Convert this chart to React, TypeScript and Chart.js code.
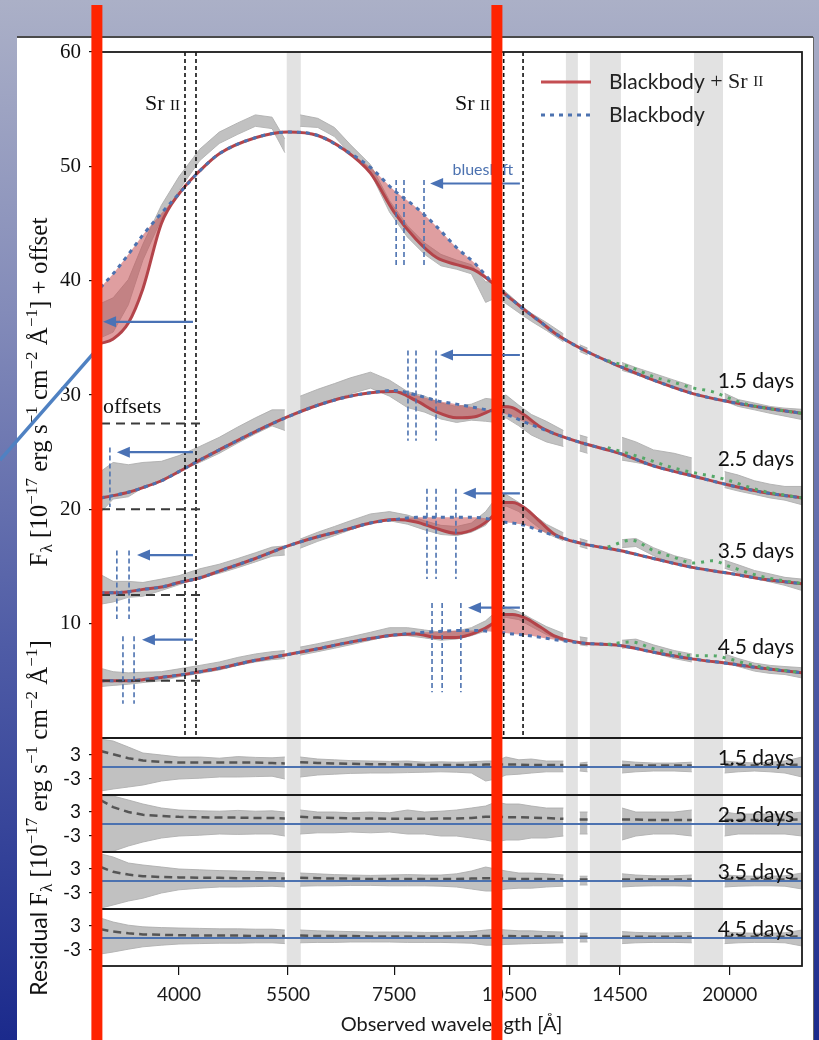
import React, { useEffect, useRef } from 'react';
import { Chart, registerables } from 'chart.js';
Chart.register(...registerables);

// ---------------- axes ----------------
const xTicks = [4000, 5500, 7500, 10500, 14500, 20000];
const mainTicks = [10, 20, 30, 40, 50, 60];
const residTicks = [-3, 3];
const X_MIN = 3185;
const X_MAX = 24700;
const dayNames = ['1.5 days', '2.5 days', '3.5 days', '4.5 days'];

// ---------------- model curves (Å) ----------------
const modelW = [3180, 3300, 3450, 3600, 3800, 4000, 4250, 4500, 5000, 5500, 6000, 6500, 7000, 7500, 8000, 8500, 9000, 9500, 10000, 10300, 10600, 11000, 11500, 12000, 13000, 14500, 16000, 18000, 20000, 22000, 24700];
const bb1 = [39.4, 40.6, 42.3, 44.0, 45.9, 47.6, 49.6, 51.1, 52.5, 53.0, 52.7, 51.4, 49.9, 47.9, 46.4, 44.7, 42.9, 41.5, 39.8, 39.0, 38.3, 37.4, 36.4, 35.4, 34.0, 32.5, 31.3, 30.1, 29.4, 28.9, 28.4];
const red1 = [34.5, 34.9, 36.3, 39.3, 45.0, 47.6, 49.6, 51.1, 52.5, 53.0, 52.7, 51.4, 49.4, 46.0, 43.6, 42.0, 41.4, 40.9, 39.8, 39.0, 38.3, 37.4, 36.4, 35.4, 34.0, 32.5, 31.3, 30.1, 29.4, 28.9, 28.4];
const bb2 = [21.0, 21.2, 21.5, 21.9, 22.5, 23.3, 24.3, 25.2, 26.8, 28.1, 29.1, 29.8, 30.2, 30.4, 30.0, 29.5, 29.2, 28.9, 28.6, 28.4, 28.1, 27.6, 27.1, 26.6, 25.8, 24.9, 23.8, 22.9, 22.1, 21.5, 21.0];
const red2 = [21.0, 21.2, 21.5, 21.9, 22.5, 23.3, 24.3, 25.2, 26.8, 28.1, 29.1, 29.8, 30.2, 30.3, 29.5, 28.5, 28.0, 28.1, 28.7, 29.0, 28.9, 28.2, 27.2, 26.6, 25.8, 24.9, 23.8, 22.9, 22.1, 21.5, 21.0];
const bb3 = [12.7, 12.7, 12.8, 13.0, 13.2, 13.6, 14.0, 14.6, 15.7, 16.8, 17.6, 18.2, 18.8, 19.1, 19.3, 19.3, 19.3, 19.3, 19.1, 18.9, 18.8, 18.6, 18.1, 17.7, 17.0, 16.4, 15.7, 14.9, 14.4, 13.9, 13.5];
const red3 = [12.7, 12.7, 12.8, 13.0, 13.2, 13.6, 14.0, 14.6, 15.7, 16.8, 17.6, 18.2, 18.8, 19.1, 18.9, 18.3, 17.9, 18.3, 19.4, 20.6, 20.6, 20.1, 18.9, 17.8, 17.0, 16.4, 15.7, 14.9, 14.4, 13.9, 13.5];
const bb4 = [5.0, 5.0, 5.0, 5.1, 5.3, 5.5, 5.8, 6.1, 6.8, 7.3, 7.8, 8.3, 8.7, 9.0, 9.2, 9.3, 9.4, 9.4, 9.3, 9.2, 9.1, 9.0, 8.8, 8.6, 8.3, 8.1, 7.5, 6.9, 6.5, 6.1, 5.7];
const red4 = [5.0, 5.0, 5.0, 5.1, 5.3, 5.5, 5.8, 6.1, 6.8, 7.3, 7.8, 8.3, 8.7, 9.0, 9.1, 8.8, 8.8, 9.2, 10.0, 10.8, 10.8, 10.5, 9.7, 8.9, 8.3, 8.1, 7.5, 6.9, 6.5, 6.1, 5.7];

// green NIR fits
const greenW = [14000, 15000, 16000, 17000, 18000, 19000, 20000, 21000, 22000, 24700];
const g1 = [33.0, 32.4, 31.6, 31.1, 30.6, 30.3, 29.7, 29.2, 28.9, 28.4];
const g2 = [25.4, 24.8, 24.2, 23.6, 23.2, 22.9, 22.5, 22.0, 21.6, 21.0];
const g3 = [16.7, 17.3, 16.4, 15.8, 15.3, 15.5, 15.0, 14.5, 14.1, 13.5];
const g4 = [8.2, 8.4, 7.8, 7.4, 7.2, 7.2, 6.9, 6.5, 6.2, 5.7];

// ---------------- observed spectra ----------------
const specW = [3180, 3300, 3450, 3600, 3800, 4000, 4250, 4500, 4750, 5000, 5250, 5450, 5580, 5700, 6000, 6300, 6600, 7000, 7400, 7800, 8200, 8600, 9000, 9400, 9800, 10100, 10400, 10800, 11200, 11700, 12300, 12600, 12900, 13200, 13900, 14600, 15200, 16000, 17000, 17900, 18800, 19700, 20500, 21500, 22500, 23500, 24700];
const specC1 = [36.5, 37.0, 39.0, 42.5, 46.0, 48.5, 51.0, 52.5, 53.3, 54.0, 53.8, 51.8, null, 54.0, 53.8, 53.0, 51.5, 49.8, 46.5, 44.3, 42.8, 41.8, 41.4, 41.0, 39.0, 39.2, 38.5, 37.6, 36.8, 36.0, 35.0, null, 34.1, 33.8, null, 32.5, 32.1, 31.6, 31.0, 30.5, null, 29.8, 29.3, 29.0, 28.7, 28.5, 28.3];
const specN1 = [1.5, 1.5, 1.1, 0.7, 0.6, 0.6, 0.5, 0.5, 0.5, 0.5, 0.5, 0.6, null, 0.5, 0.4, 0.4, 0.4, 0.35, 0.5, 0.5, 0.5, 0.5, 0.4, 0.4, 0.9, 0.7, 0.5, 0.4, 0.35, 0.35, 0.35, null, 0.3, 0.3, null, 0.35, 0.3, 0.3, 0.3, 0.3, null, 0.35, 0.3, 0.3, 0.3, 0.35, 0.45];
const specC2 = [21.5, 22.5, 22.5, 23.0, 23.3, 24.0, 24.8, 25.6, 26.5, 27.3, 28.0, 27.8, null, 29.2, 29.8, 30.3, 30.8, 31.3, 30.6, 29.6, 29.2, 28.6, 28.3, 28.5, 28.7, 28.6, 29.0, 28.2, 27.4, 26.8, 26.2, null, 25.8, 25.6, null, 25.3, 25.0, 24.5, 24.2, 23.8, null, 22.6, 22.3, 21.9, 21.6, 21.4, 21.2];
const specN2 = [1.8, 1.6, 1.4, 1.1, 0.9, 0.7, 0.7, 0.7, 0.7, 0.7, 0.7, 0.9, null, 0.7, 0.7, 0.7, 0.7, 0.7, 0.7, 0.7, 0.7, 0.7, 0.7, 0.7, 1.0, 1.0, 1.0, 0.9, 0.9, 0.9, 0.7, null, 0.7, 0.7, null, 1.0, 0.9, 0.7, 0.7, 0.7, null, 0.7, 0.7, 0.6, 0.6, 0.6, 0.8];
const specC3 = [13.0, 12.8, 13.0, 13.0, 13.4, 13.8, 14.4, 14.8, 15.3, 15.8, 16.3, 16.4, null, 17.0, 17.6, 18.1, 18.6, 19.2, 19.4, 19.1, 18.6, 18.2, 18.1, 18.4, 19.2, 20.4, 20.8, 20.2, 19.3, 18.3, 17.6, null, 17.1, 16.9, null, 17.0, 17.1, 16.3, 15.6, 15.2, null, 15.2, 14.8, 14.3, 14.0, 13.7, 13.4];
const specN3 = [1.3, 0.9, 0.7, 0.6, 0.5, 0.4, 0.4, 0.4, 0.4, 0.4, 0.4, 0.4, null, 0.4, 0.4, 0.4, 0.4, 0.4, 0.4, 0.4, 0.4, 0.4, 0.4, 0.4, 0.6, 0.6, 0.5, 0.4, 0.4, 0.4, 0.35, null, 0.35, 0.35, null, 0.35, 0.35, 0.35, 0.35, 0.35, null, 0.35, 0.35, 0.35, 0.35, 0.35, 0.5];
const specC4 = [5.3, 5.2, 5.2, 5.3, 5.4, 5.7, 6.0, 6.3, 6.7, 7.0, 7.2, 7.3, null, 7.6, 7.9, 8.2, 8.5, 8.9, 9.3, 9.3, 9.1, 8.9, 9.0, 9.3, 9.8, 10.6, 11.0, 10.7, 10.1, 9.4, 8.8, null, 8.5, 8.4, null, 8.2, 8.3, 7.8, 7.3, 7.0, null, 7.0, 6.6, 6.2, 6.0, 5.9, 5.7];
const specN4 = [0.8, 0.6, 0.5, 0.45, 0.4, 0.35, 0.35, 0.35, 0.35, 0.35, 0.35, 0.35, null, 0.35, 0.35, 0.35, 0.35, 0.35, 0.35, 0.35, 0.35, 0.35, 0.35, 0.35, 0.45, 0.45, 0.45, 0.35, 0.35, 0.35, 0.35, null, 0.35, 0.35, null, 0.35, 0.35, 0.35, 0.35, 0.35, null, 0.35, 0.35, 0.35, 0.35, 0.35, 0.45];

// ---------------- residuals ----------------
const resU1 = [7, 6.5, 5, 3.5, 3, 2.5, 2.5, 2.2, 2.6, 2.4, 2.3, 2.5, null, 2.5, 2.0, 1.8, 1.6, 1.5, 1.4, 1.5, 1.2, 1.3, 1.2, 1.3, 1.5, 1.5, 2.5, 1.8, 2.0, 1.5, 1.5, null, 1.0, 1.2, null, 1.5, 1.2, 1.0, 1.0, 1.2, null, 1.5, 1.2, 1.0, 1.2, 1.5, 2.5];
const resL1 = [-6, -5.5, -5, -4.5, -3.5, -3, -2.8, -2.5, -2.5, -2.4, -2.3, -3.0, null, -2.5, -2.0, -1.8, -1.6, -1.5, -1.5, -1.4, -1.3, -1.2, -1.3, -1.5, -3.5, -3.0, -2.0, -1.8, -1.5, -1.2, -1.2, null, -1.0, -1.2, null, -1.5, -1.2, -1.0, -1.0, -1.2, null, -1.5, -1.2, -1.0, -1.2, -1.5, -2.5];
const resD1 = [4, 3.2, 2.2, 1.6, 1.3, 1.1, 1.1, 1.1, 1.1, 1.1, 1.0, 0.9, null, 1.2, 1.0, 0.9, 0.8, 0.7, 0.7, 0.6, 0.5, 0.5, 0.5, 0.5, 0.6, 0.6, 0.6, 0.6, 0.5, 0.5, 0.5, null, 0.4, 0.4, null, 0.4, 0.4, 0.4, 0.4, 0.4, null, 0.4, 0.4, 0.4, 0.4, 0.5, 0.6];
const resU2 = [7, 7, 6, 5, 4, 3.5, 3.3, 3.2, 3.4, 3.2, 3.3, 3.0, null, 3.5, 3.0, 3.0, 2.8, 3.0, 2.8, 3.5, 3.0, 3.2, 3.5, 4.0, 4.5, 5.5, 5.0, 5.0, 4.5, 4.0, 4.0, null, 3.0, 3.0, null, 4.0, 3.0, 3.0, 3.0, 3.5, null, 3.0, 2.5, 2.5, 2.5, 2.5, 3.0];
const resL2 = [-7, -6.8, -5.5, -4.5, -3.5, -3, -2.8, -2.5, -2.6, -2.5, -2.5, -3.0, null, -2.5, -2.2, -2.2, -2.0, -2.2, -2.0, -2.5, -2.5, -3.0, -3.0, -3.5, -4.0, -4.5, -4.0, -4.0, -3.5, -3.5, -3.0, null, -2.5, -2.5, null, -4.0, -3.0, -2.5, -2.5, -3.0, null, -3.0, -2.5, -2.5, -2.5, -2.5, -3.0];
const resD2 = [6.0, 4.2, 3.0, 2.3, 2.0, 1.8, 1.7, 1.6, 1.6, 1.5, 1.5, 1.4, null, 1.8, 1.6, 1.5, 1.4, 1.4, 1.3, 1.3, 1.3, 1.4, 1.4, 1.5, 1.8, 1.8, 1.7, 1.7, 1.6, 1.5, 1.3, null, 1.1, 1.1, null, 1.1, 1.1, 1.0, 1.0, 1.0, null, 1.0, 1.0, 1.0, 1.0, 1.0, 1.2];
const resU3 = [6.8, 6.0, 4.5, 4.0, 3.5, 3.0, 2.8, 2.6, 2.5, 2.4, 2.2, 2.0, null, 2.0, 1.8, 1.6, 1.5, 1.4, 1.5, 1.6, 1.5, 1.5, 1.8, 2.5, 3.5, 3.0, 2.5, 2.0, 2.0, 1.8, 1.5, null, 1.2, 1.2, null, 1.8, 1.5, 1.3, 1.3, 1.5, null, 1.5, 1.3, 1.2, 1.2, 1.3, 2.0];
const resL3 = [-6.8, -6.0, -5.0, -4.3, -3.0, -2.2, -1.8, -1.5, -1.5, -1.4, -1.3, -1.5, null, -1.3, -1.2, -1.2, -1.1, -1.1, -1.2, -1.2, -1.2, -1.3, -1.5, -2.0, -2.5, -2.5, -2.0, -1.8, -1.8, -1.5, -1.3, null, -1.0, -1.0, null, -1.5, -1.3, -1.2, -1.2, -1.3, null, -1.5, -1.3, -1.2, -1.2, -1.3, -2.0];
const resD3 = [3.5, 2.3, 1.6, 1.2, 1.0, 0.9, 0.8, 0.8, 0.7, 0.7, 0.7, 0.6, null, 0.8, 0.7, 0.6, 0.6, 0.5, 0.5, 0.5, 0.5, 0.5, 0.5, 0.6, 0.7, 0.7, 0.6, 0.5, 0.5, 0.5, 0.4, null, 0.4, 0.4, null, 0.4, 0.4, 0.4, 0.4, 0.4, null, 0.4, 0.4, 0.4, 0.4, 0.4, 0.5];
const resU4 = [5.0, 4.0, 3.2, 2.8, 2.6, 2.5, 2.4, 2.3, 2.3, 2.2, 2.2, 2.0, null, 2.0, 1.8, 1.7, 1.6, 1.5, 1.5, 1.5, 1.4, 1.4, 1.5, 1.6, 2.0, 2.2, 2.0, 1.8, 1.8, 1.6, 1.5, null, 1.2, 1.2, null, 1.6, 1.4, 1.3, 1.3, 1.4, null, 1.5, 1.3, 1.2, 1.2, 1.3, 2.0];
const resL4 = [-4.0, -3.5, -2.8, -2.2, -1.8, -1.5, -1.4, -1.3, -1.3, -1.2, -1.2, -1.4, null, -1.2, -1.1, -1.1, -1.0, -1.0, -1.0, -1.1, -1.1, -1.1, -1.2, -1.3, -1.8, -1.8, -1.6, -1.5, -1.4, -1.3, -1.2, null, -1.0, -1.0, null, -1.4, -1.2, -1.1, -1.1, -1.2, null, -1.4, -1.2, -1.1, -1.1, -1.2, -2.0];
const resD4 = [2.2, 1.6, 1.2, 0.9, 0.8, 0.7, 0.6, 0.6, 0.6, 0.5, 0.5, 0.5, null, 0.6, 0.5, 0.5, 0.5, 0.4, 0.4, 0.4, 0.4, 0.4, 0.4, 0.4, 0.5, 0.5, 0.5, 0.4, 0.4, 0.4, 0.4, null, 0.3, 0.3, null, 0.3, 0.3, 0.3, 0.3, 0.3, null, 0.3, 0.3, 0.3, 0.3, 0.3, 0.4];
const zeroW = [X_MIN, X_MAX];
const zeroV = [0, 0];

// ---------------- annotations ----------------
const tellurics = [[5480, 5710], [12390, 12830], [13290, 14550], [18015, 19610]];
const srLines = [4071, 4204, 10330, 10932];
const srLabelRight = [4012, 9925];
const srLabelY = 54.9;
const nirMarks = [[7545, 7720, 8185], [7810, 7996, 8478], [8256, 8478, 8985], [8379, 8630, 9116]];
const nirMarkLo = [41.1, 26.0, 13.9, 4.0];
const nirMarkHi = [48.8, 33.9, 21.8, 11.8];
const nirArrowFrom = 10832;
const nirArrowTo = [8333, 8577, 9170, 9307];
const nirArrowY = [48.5, 33.5, 21.4, 11.4];
const uvArrowFrom = 4167;
const uvArrowTo = [3204, 3336, 3538, 3590];
const uvArrowY = [36.4, 25.0, 16.0, 8.6];
const uvMarks = [[], [3269], [3336, 3457], [3396, 3508]];
const uvMarkLo = [0, 20.2, 10.4, 3.0];
const uvMarkHi = [0, 25.4, 16.4, 8.9];
const offsetLevels = [27.5, 20, 12.5, 5];
const offsetEnd = 4276;
const offsetsLabelY = 28.4;
const dayLabelY = [31.2, 24.4, 16.3, 7.9];
const residLabelY = 2.2;
const blueshiftAt = [9720, 49.7];
const handMarks = [3147, 10128];
const connectorY = [24.3, 34.3];

const GRAY_LINE = 'rgba(172,172,172,0.85)';
const GRAY_FILL = 'rgba(178,178,178,0.8)';
const RED = '#b3444a';
const RED_FILL = 'rgba(196,78,82,0.55)';
const BLUE = '#4c72b0';
const GREEN = '#55a868';
const SERIF = '"Liberation Serif", "DejaVu Serif", serif';
const SANS = 'Lato, "Open Sans", sans-serif';

function series(xs: number[], ys: (number | null)[]) {
  return xs.map((x, i) => ({ x, y: ys[i] }));
}

function buildDatasets() {
  const ds: any[] = [];
  const mains = [
    { c: specC1, n: specN1, red: red1, bb: bb1, g: g1 },
    { c: specC2, n: specN2, red: red2, bb: bb2, g: g2 },
    { c: specC3, n: specN3, red: red3, bb: bb3, g: g3 },
    { c: specC4, n: specN4, red: red4, bb: bb4, g: g4 },
  ];
  mains.forEach((e) => {
    const up = e.c.map((v, i) => (v == null ? null : v + (e.n[i] as number)));
    const lo = e.c.map((v, i) => (v == null ? null : v - (e.n[i] as number)));
    ds.push({ data: series(specW, up), yAxisID: 'y', borderColor: GRAY_LINE, borderWidth: 1, backgroundColor: GRAY_FILL, fill: '+1', order: 5, pointRadius: 0 });
    ds.push({ data: series(specW, lo), yAxisID: 'y', borderColor: GRAY_LINE, borderWidth: 1, fill: false, order: 5, pointRadius: 0 });
    ds.push({ data: series(modelW, e.red), yAxisID: 'y', borderColor: RED, borderWidth: 3, fill: { target: '+1', above: RED_FILL, below: RED_FILL }, order: 3, cubicInterpolationMode: 'monotone', pointRadius: 0 });
    ds.push({ data: series(modelW, e.bb), yAxisID: 'y', borderColor: BLUE, borderWidth: 3, borderDash: [4, 5], fill: false, order: 2, cubicInterpolationMode: 'monotone', pointRadius: 0 });
    ds.push({ data: series(greenW, e.g), yAxisID: 'y', borderColor: GREEN, borderWidth: 3, borderDash: [3, 6], fill: false, order: 1, cubicInterpolationMode: 'monotone', pointRadius: 0 });
  });
  const res = [
    { u: resU1, l: resL1, d: resD1, id: 'r1' },
    { u: resU2, l: resL2, d: resD2, id: 'r2' },
    { u: resU3, l: resL3, d: resD3, id: 'r3' },
    { u: resU4, l: resL4, d: resD4, id: 'r4' },
  ];
  res.forEach((e) => {
    ds.push({ data: series(specW, e.u), yAxisID: e.id, borderColor: GRAY_LINE, borderWidth: 1, backgroundColor: GRAY_FILL, fill: '+1', order: 5, pointRadius: 0 });
    ds.push({ data: series(specW, e.l), yAxisID: e.id, borderColor: GRAY_LINE, borderWidth: 1, fill: false, order: 5, pointRadius: 0 });
    ds.push({ data: series(specW, e.d), yAxisID: e.id, borderColor: '#555', borderWidth: 2.5, borderDash: [8, 5], fill: false, order: 2, pointRadius: 0 });
    ds.push({ data: series(zeroW, zeroV), yAxisID: e.id, borderColor: BLUE, borderWidth: 2, fill: false, order: 1, pointRadius: 0 });
  });
  return ds;
}

function drawSegs(ctx: any, segs: any[], x0: number, y0: number, align: string) {
  let total = 0;
  segs.forEach((s) => { ctx.font = s.f; total += ctx.measureText(s.t).width; });
  let x = align === 'right' ? x0 - total : align === 'center' ? x0 - total / 2 : x0;
  segs.forEach((s) => {
    ctx.font = s.f;
    ctx.fillText(s.t, x, y0 + (s.dy || 0));
    x += ctx.measureText(s.t).width;
  });
}

function drawRotated(ctx: any, segs: any[], cx: number, cy: number) {
  ctx.save();
  ctx.translate(cx, cy);
  ctx.rotate(-Math.PI / 2);
  ctx.textAlign = 'left';
  ctx.textBaseline = 'alphabetic';
  drawSegs(ctx, segs, 0, 0, 'center');
  ctx.restore();
}

function arrowLeft(ctx: any, xFrom: number, xTo: number, y: number) {
  ctx.beginPath();
  ctx.moveTo(xFrom, y);
  ctx.lineTo(xTo + 10, y);
  ctx.stroke();
  ctx.beginPath();
  ctx.moveTo(xTo, y);
  ctx.lineTo(xTo + 13, y - 5.5);
  ctx.lineTo(xTo + 13, y + 5.5);
  ctx.closePath();
  ctx.fill();
}

const S22 = `22px ${SERIF}`;
const S15 = `15px ${SERIF}`;
const T25 = `25px ${SERIF}`;
const T17 = `17px ${SERIF}`;

const slidePlugin = {
  id: 'slide',
  beforeDraw(chart: any) {
    const { ctx, width, height } = chart;
    ctx.save();
    const g = ctx.createLinearGradient(0, 0, 0, height);
    g.addColorStop(0, '#abb0c7');
    g.addColorStop(0.3, '#838bb9');
    g.addColorStop(0.62, '#4f5ca6');
    g.addColorStop(1, '#1b2a8c');
    ctx.fillStyle = g;
    ctx.fillRect(0, 0, width, height);
    ctx.fillStyle = '#ffffff';
    ctx.fillRect(17, 37, 796, height - 37);
    ctx.strokeStyle = '#4a4a4a';
    ctx.lineWidth = 2;
    ctx.beginPath();
    ctx.moveTo(17, 37);
    ctx.lineTo(813, 37);
    ctx.stroke();
    ctx.lineWidth = 1;
    ctx.strokeStyle = '#666';
    ctx.beginPath();
    ctx.moveTo(813.5, 37);
    ctx.lineTo(813.5, height);
    ctx.stroke();
    ctx.restore();
  },
  beforeDatasetsDraw(chart: any) {
    const { ctx, chartArea, scales } = chart;
    const x = scales.x;
    ctx.save();
    ctx.fillStyle = '#e2e2e2';
    tellurics.forEach(([a, b]) => {
      const x1 = x.getPixelForValue(a);
      const x2 = x.getPixelForValue(b);
      ctx.fillRect(x1, chartArea.top, x2 - x1, chartArea.bottom - chartArea.top);
    });
    ctx.restore();
  },
};

const annotPlugin = {
  id: 'annot',
  afterDatasetsDraw(chart: any) {
    const { ctx, chartArea, scales } = chart;
    const x = scales.x;
    const y = scales.y;
    const px = (w: number) => x.getPixelForValue(w);
    const py = (v: number) => y.getPixelForValue(v);
    ctx.save();

    // Sr II dashed lines
    ctx.strokeStyle = '#111';
    ctx.lineWidth = 1.6;
    ctx.setLineDash([4, 3]);
    srLines.forEach((w) => {
      ctx.beginPath();
      ctx.moveTo(px(w), y.top);
      ctx.lineTo(px(w), y.bottom);
      ctx.stroke();
    });
    ctx.setLineDash([]);

    // Sr II labels
    ctx.fillStyle = '#111';
    ctx.textBaseline = 'alphabetic';
    ctx.textAlign = 'left';
    srLabelRight.forEach((w) => {
      drawSegs(ctx, [{ t: 'Sr ', f: S22 }, { t: 'II', f: S15 }], px(w), py(srLabelY), 'right');
    });

    // offset dashed lines
    ctx.strokeStyle = '#3a3a3a';
    ctx.lineWidth = 2;
    ctx.setLineDash([9, 6]);
    offsetLevels.forEach((v) => {
      ctx.beginPath();
      ctx.moveTo(chartArea.left, py(v));
      ctx.lineTo(px(offsetEnd), py(v));
      ctx.stroke();
    });
    ctx.setLineDash([]);
    ctx.fillStyle = '#111';
    ctx.font = S22;
    ctx.fillText('offsets', chartArea.left + 2, py(offsetsLabelY));

    // blueshift markers
    ctx.strokeStyle = BLUE;
    ctx.lineWidth = 1.6;
    ctx.setLineDash([5, 3]);
    nirMarks.forEach((arr, i) => {
      arr.forEach((w) => {
        ctx.beginPath();
        ctx.moveTo(px(w), py(nirMarkHi[i]));
        ctx.lineTo(px(w), py(nirMarkLo[i]));
        ctx.stroke();
      });
    });
    uvMarks.forEach((arr, i) => {
      arr.forEach((w) => {
        ctx.beginPath();
        ctx.moveTo(px(w), py(uvMarkHi[i]));
        ctx.lineTo(px(w), py(uvMarkLo[i]));
        ctx.stroke();
      });
    });
    ctx.setLineDash([]);

    // arrows
    ctx.strokeStyle = '#4a72b5';
    ctx.fillStyle = '#4a72b5';
    ctx.lineWidth = 2.2;
    nirArrowTo.forEach((w, i) => arrowLeft(ctx, px(nirArrowFrom), px(w), py(nirArrowY[i])));
    uvArrowTo.forEach((w, i) => arrowLeft(ctx, px(uvArrowFrom), px(w), py(uvArrowY[i])));
    ctx.fillStyle = BLUE;
    ctx.font = `16px ${SANS}`;
    ctx.textAlign = 'center';
    ctx.textBaseline = 'middle';
    ctx.fillText('blueshift', px(blueshiftAt[0]), py(blueshiftAt[1]));

    // day labels
    ctx.fillStyle = '#111';
    ctx.font = `21px ${SANS}`;
    ctx.textAlign = 'right';
    ctx.textBaseline = 'middle';
    dayNames.forEach((d, i) => {
      ctx.fillText(d, chartArea.right - 8, py(dayLabelY[i]));
      const rs = scales['r' + (i + 1)];
      ctx.fillText(d, chartArea.right - 8, rs.getPixelForValue(residLabelY));
    });

    // legend
    const lx = chartArea.right - 261;
    const ly1 = chartArea.top + 30;
    const ly2 = chartArea.top + 63;
    ctx.lineWidth = 3;
    ctx.strokeStyle = '#c44e52';
    ctx.beginPath();
    ctx.moveTo(lx, ly1);
    ctx.lineTo(lx + 50, ly1);
    ctx.stroke();
    ctx.strokeStyle = BLUE;
    ctx.setLineDash([4, 5]);
    ctx.beginPath();
    ctx.moveTo(lx, ly2);
    ctx.lineTo(lx + 50, ly2);
    ctx.stroke();
    ctx.setLineDash([]);
    ctx.fillStyle = '#222';
    ctx.textAlign = 'left';
    ctx.textBaseline = 'middle';
    drawSegs(ctx, [
      { t: 'Blackbody', f: `21px ${SANS}` },
      { t: ' + ', f: S22 },
      { t: 'Sr ', f: S22 },
      { t: 'II', f: S15 },
    ], lx + 68, ly1, 'left');
    drawSegs(ctx, [{ t: 'Blackbody', f: `21px ${SANS}` }], lx + 68, ly2, 'left');

    // panel frames
    ctx.strokeStyle = '#1a1a1a';
    ctx.lineWidth = 1.8;
    ['y', 'r1', 'r2', 'r3', 'r4'].forEach((id) => {
      const s = scales[id];
      ctx.strokeRect(chartArea.left, s.top, chartArea.right - chartArea.left, s.bottom - s.top);
    });
    ctx.restore();
  },
  afterDraw(chart: any) {
    const { ctx, chartArea, scales, height } = chart;
    const x = scales.x;
    const y = scales.y;
    ctx.save();
    ctx.fillStyle = '#111';
    drawRotated(ctx, [
      { t: 'F', f: T25 }, { t: 'λ', f: T17, dy: 5 }, { t: ' [10', f: T25 }, { t: '−17', f: T17, dy: -10 },
      { t: ' erg s', f: T25 }, { t: '−1', f: T17, dy: -10 }, { t: ' cm', f: T25 }, { t: '−2', f: T17, dy: -10 },
      { t: ' Å', f: T25 }, { t: '−1', f: T17, dy: -10 }, { t: '] + offset', f: T25 },
    ], 47, (y.top + y.bottom) / 2 - 3);
    drawRotated(ctx, [
      { t: 'Residual ', f: `23px ${SANS}` }, { t: 'F', f: T25 }, { t: 'λ', f: T17, dy: 5 }, { t: ' [10', f: T25 }, { t: '−17', f: T17, dy: -10 },
      { t: ' erg s', f: T25 }, { t: '−1', f: T17, dy: -10 }, { t: ' cm', f: T25 }, { t: '−2', f: T17, dy: -10 },
      { t: ' Å', f: T25 }, { t: '−1', f: T17, dy: -10 }, { t: ']', f: T25 },
    ], 47, 818);

    // connector line
    ctx.strokeStyle = '#4f81c2';
    ctx.lineWidth = 3.5;
    ctx.beginPath();
    ctx.moveTo(chartArea.left - 101, y.getPixelForValue(connectorY[0]));
    ctx.lineTo(chartArea.left - 1, y.getPixelForValue(connectorY[1]));
    ctx.stroke();

    // hand-drawn red markers
    ctx.strokeStyle = '#ff2400';
    ctx.lineWidth = 11;
    ctx.lineCap = 'butt';
    handMarks.forEach((w) => {
      const xp = x.getPixelForValue(w);
      ctx.beginPath();
      ctx.moveTo(xp, 5);
      ctx.lineTo(xp, height);
      ctx.stroke();
    });
    ctx.restore();
  },
};

function yAxis(weight: number, stackWeight: number) {
  return {
    type: 'linear',
    axis: 'y',
    position: 'left',
    stack: 'panels',
    stackWeight,
    weight,
    border: { display: false },
    grid: { display: true, drawOnChartArea: false, drawTicks: true, tickLength: 12, color: '#111', lineWidth: 1.2 },
    afterFit: (s: any) => { s.width = 101; },
  };
}

export default function App() {
  const ref = useRef<HTMLCanvasElement>(null);
  useEffect(() => {
    document.body.style.margin = '0';
    const residScale = (w: number) => ({
      ...yAxis(w, 57),
      min: -7,
      max: 7.25,
      afterBuildTicks: (s: any) => { s.ticks = residTicks.map((v) => ({ value: v })); },
      ticks: { font: { family: SANS, size: 19 }, color: '#111', padding: 8, callback: (v: any) => String(v) },
    });
    const chart = new Chart(ref.current as HTMLCanvasElement, {
      type: 'line',
      data: { datasets: buildDatasets() },
      options: {
        animation: false,
        responsive: false,
        maintainAspectRatio: false,
        devicePixelRatio: 1,
        events: [],
        layout: { padding: { left: 0, right: 17, top: 52, bottom: 0 } },
        plugins: { legend: { display: false }, tooltip: { enabled: false } },
        elements: { point: { radius: 0 }, line: { tension: 0 } },
        scales: {
          x: {
            type: 'logarithmic',
            position: 'bottom',
            min: X_MIN,
            max: X_MAX,
            afterBuildTicks: (s: any) => { s.ticks = xTicks.map((v) => ({ value: v })); },
            ticks: { autoSkip: false, maxRotation: 0, font: { family: SANS, size: 19 }, color: '#1a1a1a', padding: 8, callback: (v: any) => String(v) },
            grid: { display: true, drawOnChartArea: false, drawTicks: true, tickLength: 9, color: '#111', lineWidth: 1.2 },
            border: { display: false },
            title: { display: true, text: 'Observed wavelength [Å]', font: { family: SANS, size: 20 }, color: '#1a1a1a', padding: { top: 0, bottom: 3 } },
            afterFit: (s: any) => { s.height = 74; },
          },
          y: {
            ...yAxis(5, 686),
            min: 0,
            max: 60,
            afterBuildTicks: (s: any) => { s.ticks = mainTicks.map((v) => ({ value: v })); },
            ticks: { font: { family: SERIF, size: 21 }, color: '#111', padding: 8, callback: (v: any) => String(v) },
          },
          r1: residScale(4),
          r2: residScale(3),
          r3: residScale(2),
          r4: residScale(1),
        } as any,
      },
      plugins: [slidePlugin, annotPlugin],
    } as any);
    return () => chart.destroy();
  }, []);
  return (
    <div style={{ width: 819, height: 1040, position: 'relative' }}>
      <canvas ref={ref} width={819} height={1040} style={{ display: 'block', width: 819, height: 1040 }} />
    </div>
  );
}
